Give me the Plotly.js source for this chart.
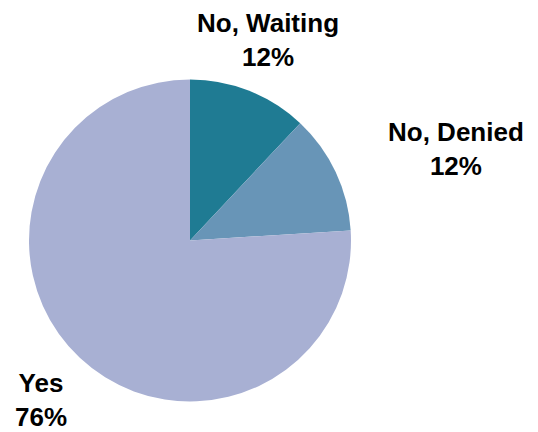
<!DOCTYPE html>
<html>
<head>
<meta charset="utf-8">
<script src="https://cdn.plot.ly/plotly-3.0.1.min.js"></script>
<style>html,body{margin:0;padding:0;background:#fff;}#chart{width:538px;height:432px;}</style>
</head>
<body>
<div id="chart"></div>
<script>
const labels = ["No, Waiting", "No, Denied", "Yes"];
const values = [12, 12, 76];
const colors = ["#1f7b93", "#6895b7", "#a8b0d3"];
const labelPos = [
  {x: 267.5 / 538, y: (432 - 39.5) / 432},
  {x: 455.5 / 538, y: (432 - 149.5) / 432},
  {x: 40.5 / 538, y: (432 - 400) / 432}
];

const total = values.reduce((a, b) => a + b, 0);
const annotations = labels.map((l, i) => ({
  xref: "paper", yref: "paper",
  x: labelPos[i].x, y: labelPos[i].y,
  xanchor: "center", yanchor: "middle",
  showarrow: false,
  text: l + "<br>" + Math.round(values[i] / total * 100) + "%",
  font: {family: "Liberation Sans, Arial, sans-serif", size: 26, color: "#000", weight: "bold"}
}));

Plotly.newPlot("chart", [{
  type: "pie",
  labels: labels,
  values: values,
  sort: false,
  direction: "clockwise",
  rotation: 0,
  textinfo: "none",
  hoverinfo: "label+percent",
  marker: {colors: colors, line: {width: 0}},
  domain: {x: [29 / 538, 351 / 538], y: [30 / 432, 353 / 432]}
}], {
  width: 538, height: 432,
  margin: {l: 0, r: 0, t: 0, b: 0},
  showlegend: false,
  paper_bgcolor: "#fff",
  annotations: annotations
}, {displayModeBar: false, staticPlot: true});
</script>
</body>
</html>
